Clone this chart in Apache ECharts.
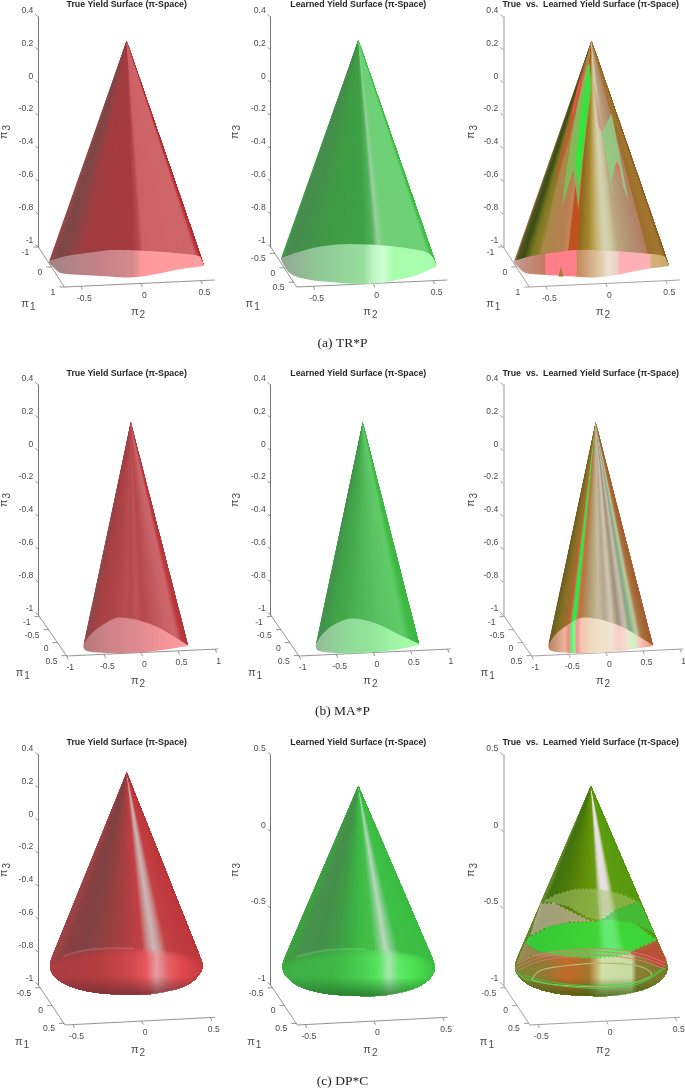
<!DOCTYPE html>
<html>
<head>
<meta charset="utf-8">
<title>Yield surfaces in pi-space</title>
<script src="https://cdn.jsdelivr.net/npm/echarts@6/dist/echarts.min.js"></script>
<style>html,body{margin:0;background:#fff}</style>
</head>
<body>
<div id="chart" style="width:685px;height:1088px;"></div>
<script>
// all outlines are [pi2, pi3] as read against the tick marks of each panel
const pi3TicksMax = [0.4, 0.5];
const captions = ['(a) TR*P', '(b) MA*P', '(c) DP*C'];
const titles = ['True Yield Surface (\u03c0-Space)', 'Learned Yield Surface (\u03c0-Space)', 'True  vs.  Learned Yield Surface (\u03c0-Space)'];

const pi2TicksA = [-0.5, 0, 0.5];
const pi2TicksB = [-1, -0.5, 0, 0.5, 1];
const pi2TicksC = [-0.5, 0, 0.5];
const pi1TicksWide = [-1, 0, 1];
const pi1TicksNarrow = [-0.5, 0, 0.5];
const pi1TicksB = [-1, -0.5, 0, 0.5];

// row a, TR*P
const aTrueApex = [-0.119, 0.256];
const aTrueTop = [[-.764,-1.085],[-.619,-1.055],[-.425,-1.034],[-.231,-1.018],[-.008,-1.022],[.214,-1.032],[.464,-1.051],[.506,-1.079],[.525,-1.110]];
const aTrueLow = [[.525,-1.116],[.325,-1.136],[.131,-1.164],[-.008,-1.181],[-.147,-1.185],[-.342,-1.176],[-.619,-1.164],[-.689,-1.150],[-.764,-1.099]];
const aLearnApex = [-0.124, 0.260];
const aLearnTop = [[-.768,-1.069],[-.638,-1.034],[-.471,-1.002],[-.276,-.984],[-.082,-.984],[.113,-.992],[.307,-1.010],[.446,-1.032],[.501,-1.069],[.529,-1.114]];
const aLearnLow = [[.529,-1.120],[.363,-1.170],[.196,-1.201],[.029,-1.221],[-.165,-1.223],[-.360,-1.213],[-.554,-1.197],[-.693,-1.160],[-.768,-1.079]];

// row b, MA*P
const bTrueApex = [-0.138, 0.172];
const bTrueTop = [[-.776,-1.183],[-.686,-1.122],[-.552,-1.071],[-.350,-1.020],[-.170,-1.020],[.033,-1.041],[.257,-1.081],[.482,-1.142],[.631,-1.183]];
const bTrueLow = [[.631,-1.189],[.347,-1.209],[.033,-1.227],[-.282,-1.233],[-.552,-1.229],[-.732,-1.219],[-.776,-1.197]];
const bLearnApex = [-0.143, 0.172];
const bLearnTop = [[-.776,-1.183],[-.695,-1.122],[-.538,-1.061],[-.314,-1.022],[-.134,-1.030],[.091,-1.061],[.360,-1.122],[.616,-1.176]];
const bLearnLow = [[.616,-1.183],[.338,-1.209],[.046,-1.225],[-.269,-1.235],[-.583,-1.229],[-.741,-1.217],[-.776,-1.193]];

// row c, DP*C
const cTrueApex = [-0.109, 0.294];
const cTrueEdge = [[-.643,-.807],[-.667,-.878],[-.643,-.939],[-.546,-1.0],[-.376,-1.041],[-.182,-1.057],[.036,-1.057],[.231,-1.030],[.352,-.99],[.425,-.929],[.444,-.878],[.425,-.828]];
const cTrueTop = [[-.663,-.868],[-.57,-.824],[-.425,-.791],[-.255,-.777],[-.061,-.777],[.133,-.787],[.303,-.811],[.413,-.848],[.442,-.878]];
const cLearnApex = [-0.114, 0.298];
const cLearnEdge = [[-.643,-.804],[-.667,-.880],[-.636,-.946],[-.539,-1.011],[-.369,-1.054],[-.175,-1.07],[.044,-1.07],[.238,-1.039],[.359,-.993],[.427,-.935],[.444,-.880],[.425,-.826]];
const cLearnTop = [[-.665,-.87],[-.563,-.815],[-.417,-.783],[-.248,-.767],[-.053,-.767],[.141,-.778],[.311,-.804],[.408,-.837],[.442,-.876]];

// colour along the cone, keyed on pi2 at the base
const aTrueBody = [[-.764,'#a04245'],[-.74,'#8a4a4a'],[-.689,'#7c4748'],[-.578,'#8a4446'],[-.48,'#a03d40'],[-.064,'#a63b3f'],[-.008,'#b84c50'],[.02,'#cc6166'],[.45,'#cf666a'],[.483,'#b73337'],[.525,'#b53034']];
const aTrueBase = [[-.73,'#a58487'],[-.342,'#c58286'],[-.064,'#d78a8d'],[.006,'#ff999c'],[.525,'#ff9da0']];
const aLearnBody = [[-.768,'#3aa542'],[-.735,'#4a8a50'],[-.554,'#42924a'],[-.36,'#3f9c44'],[-.082,'#3ea245'],[0,'#52b25b'],[.043,'#9ecfa3'],[.075,'#7bd181'],[.113,'#6fd077'],[.446,'#6ed178'],[.488,'#3fc046'],[.529,'#3ebf45']];
const aLearnBase = [[-.749,'#94a898'],[-.471,'#8fc895'],[-.082,'#96dd9d'],[0,'#c0f5c4'],[.085,'#d0ffd2'],[.168,'#a9fcae'],[.529,'#a9ffad']];
const aMixBody = [[-.763,'#b9785f'],[-.743,'#4f5a20'],[-.688,'#3d4a16'],[-.618,'#7a7a20'],[-.5625,'#8f7d28'],[-.54,'#a88848'],[-.368,'#b87f52'],[-.32,'#c4865a'],[-.31,'#c0521f'],[-.229,'#c0521f'],[-.222,'#8a6e20'],[-.146,'#a8852b'],[-.0625,'#c8bb80'],[-.007,'#d4d4b5'],[.049,'#cdc9a0'],[.104,'#bca581'],[.243,'#b08f6f'],[.34,'#b47e62'],[.36,'#9e6f2c'],[.465,'#a17830'],[.521,'#8c5a25']];
const aMixBase = [[-.763,'#c7a7a0'],[-.70,'#c49088'],[-.51,'#c27c60'],[-.5,'#ff8088'],[-.25,'#ff8088'],[-.235,'#c58a5a'],[-.0625,'#dcc4a0'],[.02,'#ece2d0'],[.1,'#e8d0c0'],[.11,'#ffb0b4'],[.365,'#ffb0b4'],[.38,'#d6b278'],[.521,'#c8a870']];

const bTrueBody = [[-.776,'#a84548'],[-.722,'#8a4a4b'],[-.619,'#a84044'],[-.372,'#ad4548'],[-.192,'#b94d50'],[-.147,'#ae494c'],[-.058,'#bf5357'],[.032,'#b5484c'],[.212,'#c0595d'],[.347,'#c9636a'],[.482,'#cd666a'],[.562,'#bb3a3e'],[.63,'#b5353a']];
const bTrueBase = [[-.776,'#b5787c'],[-.416,'#d08388'],[-.012,'#df8b90'],[.347,'#f79599'],[.631,'#ff9fa2']];
const bLearnBody = [[-.776,'#3c9c44'],[-.718,'#4a8f51'],[-.605,'#3f9f47'],[-.359,'#46aa4d'],[-.134,'#50b858'],[.091,'#5cc265'],[.405,'#60cc68'],[.531,'#3fb946'],[.616,'#3ab940']];
const bLearnBase = [[-.776,'#94b999'],[-.449,'#90d697'],[0,'#94e69b'],[.316,'#9ff5a5'],[.616,'#a5ffa9']];
const bMixBody = [[-.776,'#6b5a20'],[-.686,'#7a6a22'],[-.597,'#8f7026'],[-.507,'#a86a30'],[-.484,'#e85050'],[-.453,'#30e840'],[-.408,'#30e840'],[-.372,'#ee5a50'],[-.336,'#b07c40'],[-.237,'#b09b70'],[-.102,'#c7bca0'],[-.013,'#b6a58e'],[.077,'#cfc9b4'],[.167,'#a08e78'],[.257,'#c9c3b2'],[.324,'#90a080'],[.369,'#86c48e'],[.414,'#c9c8a8'],[.482,'#ac7540'],[.594,'#9a6430'],[.626,'#c4503a']];
const bMixBase = [[-.776,'#b78461'],[-.55,'#ecb49c'],[-.507,'#ff8088'],[-.46,'#60f070'],[-.425,'#80f890'],[-.39,'#ff8a90'],[-.33,'#f2c6b0'],[-.15,'#efdfc4'],[.077,'#f2e3d2'],[.167,'#f8cdc9'],[.3,'#eee4cf'],[.39,'#c8f5c0'],[.437,'#ffc8c8'],[.617,'#e49a80']];

const cTrueBody = [[-.667,'#9c4345'],[-.607,'#874042'],[-.473,'#804244'],[-.303,'#94403f'],[-.109,'#ad3f42'],[.03,'#c24044'],[.09,'#c8908f'],[.14,'#cbb8b9'],[.19,'#c8908f'],[.25,'#c34044'],[.444,'#bd383c']];
const cTrueBase = [[-.667,'#b13b3f'],[-.303,'#b83d41'],[-.061,'#d54a50'],[.036,'#ee5a60'],[.109,'#e79b9e'],[.182,'#e9696d'],[.279,'#e64c52'],[.444,'#c43b40']];
const cLearnBody = [[-.667,'#3da240'],[-.607,'#47914c'],[-.473,'#458f4b'],[-.303,'#3f9d45'],[-.109,'#3cb843'],[.03,'#44c04b'],[.09,'#7fcc87'],[.14,'#b8d8bc'],[.19,'#7fcc87'],[.25,'#3fc048'],[.444,'#3bbd42']];
const cLearnBase = [[-.667,'#3eb244'],[-.303,'#3db945'],[-.061,'#4ed556'],[.036,'#58ea60'],[.109,'#a5e8aa'],[.182,'#62eb6b'],[.279,'#4fe957'],[.444,'#3cc143']];
const cMixBody = [[-.667,'#6a8a2a'],[-.643,'#3f7412'],[-.473,'#4d7a0a'],[-.279,'#5d8a08'],[-.133,'#639408'],[-.04,'#6a9a18'],[0,'#c0c8a0'],[.04,'#e8e2e2'],[.12,'#e5dfdf'],[.16,'#b8c690'],[.2,'#5f9d10'],[.444,'#589a10']];
const cMixBase = [[-.667,'#7a8a30'],[-.473,'#8d7a34'],[-.279,'#c46a28'],[-.133,'#a5752c'],[-.073,'#c7b070'],[-.036,'#d0e0a8'],[.182,'#c4dca0'],[.218,'#8b8034'],[.444,'#7a7a2a']];

// patches where the two surfaces cut through each other
const a3Red = [[-.165,.158],[-.201,-.024],[-.3125,-.369],[-.4375,-.653],[-.396,-.491],[-.299,-.207],[-.215,.037]];
const a3Hot = [[-.16,.097],[-.215,-.024],[-.27,-.19],[-.29,-.2],[-.235,-.02]];
const a3Green = [[-.1375,.118],[-.118,-.024],[-.16,-.268],[-.1875,-.450],[-.229,-.775],[-.251,-.633],[-.271,-.531],[-.3625,-.751],[-.34,-.592],[-.299,-.389],[-.229,-.105],[-.16,.097]];
const a3Core = [[-.1375,.108],[-.132,-.024],[-.1875,-.369],[-.224,-.633],[-.251,-.471],[-.215,-.247],[-.16,.037]];
const a3Right = [[.049,-.187],[.188,-.714],[.146,-.633],[.076,-.511],[.049,-.592],[.076,-.751],[.007,-.471],[-.035,-.308]];
const a3Rose = [[.076,-.511],[.146,-.633],[.11,-.5],[.09,-.48]];
const a3Left = [[-.104,.016],[-.021,-.308],[-.0625,-.268]];
const a3Spike = [[-.374,-1.12],[-.395,-1.18],[-.353,-1.18]];

const c3Olive = [[-.468,-.457],[-.376,-.411],[-.231,-.374],[-.061,-.372],[.109,-.407],[.231,-.457],[.061,-.511],[-.061,-.576],[-.133,-.565],[-.279,-.489],[-.40,-.463]];
const c3Pink = [[-.478,-.467],[-.376,-.467],[-.255,-.522],[-.133,-.576],[-.085,-.587],[-.279,-.593],[-.425,-.62],[-.558,-.685],[-.522,-.576]];
const c3Right = [[.243,-.459],[.303,-.576],[.352,-.663],[.206,-.598],[.061,-.576],[-.061,-.587],[.061,-.511]];
const c3Band = [[-.558,-.685],[-.425,-.62],[-.279,-.593],[-.061,-.587],[.061,-.576],[.206,-.598],[.364,-.707],[.328,-.75],[.231,-.783],[.061,-.815],[-.133,-.826],[-.303,-.815],[-.498,-.783],[-.595,-.728]];
const c3Red = [[.364,-.707],[.437,-.837],[.425,-.902],[.255,-.815],[.158,-.793]];
const c3Tan = [[-.595,-.728],[-.655,-.859],[-.546,-.815],[-.303,-.815],[-.498,-.783]];
const c3RingA = [[-.655,-.863],[-.449,-.793],[-.06,-.761],[.231,-.793],[.425,-.854]];
const c3RingB = [[-.655,-.885],[-.449,-.815],[-.06,-.783],[.231,-.815],[.43,-.876]];
const c3RingC = [[-.648,-.906],[-.449,-.837],[-.06,-.805],[.231,-.837],[.43,-.898]];
const c3RingTan = [[-.546,-.963],[-.473,-.902],[-.254,-.870],[-.012,-.858],[.231,-.876],[.328,-.935],[.183,-.989],[-.06,-1.011],[-.352,-1],[-.498,-.978],[-.546,-.963]];
const c3RingLow = [[-.667,-.891],[-.595,-.956],[-.376,-1],[-.06,-1.022],[.231,-.993],[.425,-.891]];
const c3RingLow2 = [[-.595,-.94],[-.376,-.985],[-.06,-1.005],[.231,-.978],[.42,-.885]];

const colLeft = [38.4, 270.7, 503.3];
const rowTop = [17, 385, 755];
const gridW = 177, gridH = 230;

const rowInfo = [
  {xMin:-.854, xMax:.621, pi2:pi2TicksA, front:-.6375, right:.617},
  {xMin:-1.383, xMax:1.003, pi2:pi2TicksB, front:-1.001, right:1.043},
  {xMin:-.752, xMax:.537, pi2:pi2TicksC, front:-.558, right:.535}
];

const panels = [
  {r:0,c:0,apex:aTrueApex,top:aTrueTop,low:aTrueLow,body:aTrueBody,base:aTrueBase,pi1:pi1TicksWide,range:[-1,1],labelX:-36},
  {r:0,c:1,apex:aLearnApex,top:aLearnTop,low:aLearnLow,body:aLearnBody,base:aLearnBase,pi1:pi1TicksNarrow,range:[-.722,.667],labelX:-44},
  {r:0,c:2,apex:aTrueApex,top:aTrueTop,low:aTrueLow,body:aMixBody,base:aMixBase,pi1:pi1TicksWide,range:[-1,1],labelX:-36,
    patches:[[a3Red,'rgba(200,85,47,0.7)'],[a3Hot,'rgba(255,74,74,0.8)'],[a3Green,'rgba(127,190,92,0.9)'],[a3Core,'#2fe83a'],[a3Right,'rgba(143,207,133,0.85)'],[a3Rose,'#d67870'],[a3Left,'rgba(208,138,128,0.7)'],[a3Spike,'#a08030']]},
  {r:1,c:0,apex:bTrueApex,top:bTrueTop,low:bTrueLow,body:bTrueBody,base:bTrueBase,pi1:pi1TicksB,range:[-1.063,.514],labelX:-44},
  {r:1,c:1,apex:bLearnApex,top:bLearnTop,low:bLearnLow,body:bLearnBody,base:bLearnBase,pi1:pi1TicksB,range:[-1.063,.514],labelX:-44},
  {r:1,c:2,apex:bTrueApex,top:bTrueTop,low:bTrueLow,body:bMixBody,base:bMixBase,pi1:pi1TicksB,range:[-1.063,.514],labelX:-44},
  {r:2,c:0,apex:cTrueApex,edge:cTrueEdge,top:cTrueTop,body:cTrueBody,base:cTrueBase,pi1:pi1TicksNarrow,range:[-.579,.545],labelX:-43,shade:'110,45,50',glow:'rgba(235,160,160,0.22)',soft:true},
  {r:2,c:1,apex:cLearnApex,edge:cLearnEdge,top:cLearnTop,body:cLearnBody,base:cLearnBase,pi1:pi1TicksNarrow,range:[-.579,.545],labelX:-43,yMax:1,shade:'35,110,40',glow:'rgba(160,235,165,0.22)',soft:true},
  {r:2,c:2,apex:cLearnApex,edge:cLearnEdge,top:cLearnTop,body:cMixBody,base:cMixBase,pi1:pi1TicksNarrow,range:[-.579,.545],labelX:-43,yMax:1,shade:'60,90,15',jag:true,
    patches:[[c3Olive,'rgba(165,195,110,0.55)'],[c3Pink,'rgba(195,175,155,0.75)'],[c3Right,'rgba(60,200,70,0.7)'],[c3Band,'rgba(50,235,70,0.72)'],[c3Red,'rgba(200,70,60,0.85)'],[c3Tan,'rgba(170,140,95,0.8)']],
    rings:[[c3RingA,'#f0707a',.8],[c3RingB,'#f0707a',.8],[c3RingC,'#f0707a',.8],[c3RingTan,'#b4b878',1.2],[c3RingLow,'#30e040',.9],[c3RingLow2,'#30e040',.7]]}
];

function hexRgb(h) {
  return [parseInt(h.substr(1,2),16), parseInt(h.substr(3,2),16), parseInt(h.substr(5,2),16)];
}
function colorAt(stops, x) {
  if (x <= stops[0][0]) return stops[0][1];
  for (let i = 1; i < stops.length; i++) {
    if (x <= stops[i][0]) {
      const t = (x - stops[i-1][0]) / (stops[i][0] - stops[i-1][0]);
      const a = hexRgb(stops[i-1][1]), b = hexRgb(stops[i][1]);
      return 'rgb(' + a.map((v, k) => Math.round(v + (b[k] - v) * t)).join(',') + ')';
    }
  }
  return stops[stops.length-1][1];
}
// catmull-rom through the read points, only to draw a smooth curve
function smoothCurve(pts, n) {
  const out = [];
  for (let i = 0; i < pts.length - 1; i++) {
    const p0 = pts[Math.max(i-1,0)], p1 = pts[i], p2 = pts[i+1], p3 = pts[Math.min(i+2,pts.length-1)];
    for (let k = 0; k < n; k++) {
      const t = k / n, t2 = t*t, t3 = t2*t;
      out.push([0,1].map(d => 0.5*(2*p1[d] + (p2[d]-p0[d])*t + (2*p0[d]-5*p1[d]+4*p2[d]-p3[d])*t2 + (3*p1[d]-p0[d]-3*p2[d]+p3[d])*t3)));
    }
  }
  out.push(pts[pts.length-1]);
  return out;
}
// saw-tooth edge like the mesh steps on the overlaid surfaces
function jagged(px) {
  const out = [];
  for (let i = 0; i < px.length; i++) {
    const a = px[i], b = px[(i+1) % px.length];
    const n = Math.max(1, Math.round(Math.abs(b[0]-a[0]) / 2));
    for (let k = 0; k < n; k++) {
      out.push([a[0] + (b[0]-a[0])*k/n, a[1] + (b[1]-a[1])*k/n + (k % 2 ? .9 : -.9)]);
    }
  }
  return out;
}

function line(api, a, b, color, w) {
  return {type:'line', shape:{x1:a[0],y1:a[1],x2:b[0],y2:b[1]}, style:{stroke:color,lineWidth:w,fill:null}};
}
function label(text, x, y, align) {
  return {type:'text', x:x, y:y, style:{text:text, fill:'#4a4a4a', fontSize:8.6, fontFamily:'Liberation Sans', align:align||'center', verticalAlign:'middle'}};
}
function piLabel(sub, x, y) {
  return {type:'text', x:x, y:y, style:{text:'{p|\u03c0}{s|'+sub+'}', align:'center', verticalAlign:'middle',
    rich:{p:{fontSize:11,fontFamily:'Liberation Sans',fill:'#4a4a4a',color:'#4a4a4a'},s:{fontSize:10,fontFamily:'Liberation Sans',fill:'#4a4a4a',color:'#4a4a4a',padding:[6,0,0,1]}}}};
}

function drawPanel(p, api) {
  const kids = [];
  const info = rowInfo[p.r];
  const yScale = p.yMax ? 1.5/gridH : 1.4/gridH;
  // floor lines: the pixel drop is the same in every panel of a row
  const back = api.coord([info.xMin, -1]);
  const drop = [40, 41, 40][p.r], rise = [33, 34, 32.3][p.r];
  const frontY = -1 - drop*yScale, rightY = -1 - rise*yScale;
  const front = api.coord([info.front, frontY]);
  const right = api.coord([info.right, rightY]);
  const floorColor = p.c === 2 ? '#8a8a8a' : '#777';
  kids.push(line(api, back, front, floorColor, .8));
  kids.push(line(api, front, right, floorColor, .8));
  p.pi1.forEach(v => {
    const f = (v - p.range[0]) / (p.range[1] - p.range[0]);
    const pt = [back[0] + (front[0]-back[0])*f, back[1] + (front[1]-back[1])*f];
    kids.push(line(api, pt, [pt[0]-5, pt[1]], floorColor, .8));
    kids.push(label(String(v), pt[0]-9, pt[1]+5.5, 'right'));
  });
  info.pi2.forEach(v => {
    const f = (v - info.front) / (info.right - info.front);
    const pt = api.coord([v, frontY + (rightY-frontY)*f]);
    kids.push(line(api, pt, [pt[0]+1.5, pt[1]+3.5], floorColor, .8));
    kids.push(label(String(v), pt[0]+3.5, pt[1]+12));
  });
  // slanted ticks of the pi3 axis
  const yTop = p.yMax ? 0.5 : 0.4, yStep = p.yMax ? 0.5 : 0.2;
  for (let v = -1; v <= yTop + 1e-6; v += yStep) {
    const pt = api.coord([info.xMin, v]);
    kids.push(line(api, pt, [pt[0]-3, pt[1]-2.5], floorColor, .8));
  }
  kids.push(piLabel('1', front[0] + p.labelX, front[1] + 17));
  kids.push(piLabel('2', back[0] + 99.7, front[1] + 25));

  // cone body as a fan from the apex, each sector painted over the rest so no seams show
  const apex = api.coord(p.apex);
  const outer = smoothCurve(p.edge || p.top, 12);
  const outerPx = outer.map(q => api.coord(q));
  for (let i = 0; i < outer.length - 1; i++) {
    const c = colorAt(p.body, (outer[i][0] + outer[i+1][0]) / 2);
    kids.push({type:'polygon', shape:{points:[apex].concat(outerPx.slice(i))}, style:{fill:c}});
  }
  // base or rim patch
  const lowChain = p.low ? smoothCurve(p.low, 8) : smoothCurve(p.edge, 8).reverse();
  const chain = smoothCurve(p.top, 8).concat(lowChain);
  const xs = chain.map(q => q[0]);
  const x0 = Math.min.apply(null, xs), x1 = Math.max.apply(null, xs);
  const makeGrad = () => new echarts.graphic.LinearGradient(0, 0, 1, 0, p.base.map(s => ({
    offset: Math.min(1, Math.max(0, (s[0]-x0)/(x1-x0))), color: s[1]
  })));
  const poly = chain.map(q => api.coord(q));
  if (p.soft) {
    // rim fades into the cone: stacked layers with the upper edge moved down
    const topChain = smoothCurve(p.top, 8);
    for (let k = 0; k < 6; k++) {
      const pts = topChain.map(q => { const a = api.coord(q); return [a[0], a[1] + k*1.6]; }).concat(lowChain.map(q => api.coord(q)));
      kids.push({type:'polygon', shape:{points:pts}, style:{fill:makeGrad(), opacity:.3}});
    }
  } else {
    kids.push({type:'polygon', shape:{points:poly}, style:{fill:makeGrad()}});
  }
  if (p.shade) {
    kids.push({type:'polygon', shape:{points:poly}, style:{fill:new echarts.graphic.LinearGradient(0,0,0,1,[
      {offset:0,color:'rgba('+p.shade+',0)'},{offset:.6,color:'rgba('+p.shade+',0)'},{offset:1,color:'rgba('+p.shade+',0.8)'}
    ])}});
  }
  if (p.glow) {
    kids.push({type:'polyline', shape:{points:smoothCurve(p.top.slice(1,5),6).map(q => api.coord(q))}, style:{stroke:p.glow,lineWidth:2.2,fill:null}});
  }
  (p.patches || []).forEach(a => {
    const px = a[0].map(q => api.coord(q));
    kids.push({type:'polygon', shape:{points:p.jag ? jagged(px) : px}, style:{fill:a[1]}});
  });
  (p.rings || []).forEach(a => {
    kids.push({type:'polyline', shape:{points:smoothCurve(a[0],8).map(q => api.coord(q))}, style:{stroke:a[1],lineWidth:a[2],fill:null}});
  });
  return {type:'group', children:kids};
}

const option = {
  animation:false,
  backgroundColor:'#fff',
  title:[],
  grid:[], xAxis:[], yAxis:[], series:[]
};
panels.forEach((p, i) => {
  const info = rowInfo[p.r];
  const left = colLeft[p.c], top = rowTop[p.r];
  option.grid.push({left:left, top:top, width:gridW, height:gridH, containLabel:false, outerBoundsMode:'none'});
  option.xAxis.push({gridIndex:i, type:'value', min:info.xMin, max:info.xMax, show:false});
  option.yAxis.push({gridIndex:i, type:'value', min:-1, max:p.yMax ? pi3TicksMax[1] : pi3TicksMax[0], interval:p.yMax ? .5 : .2,
    position:'left', splitLine:{show:false}, axisTick:{show:false},
    axisLine:{show:true, onZero:false, lineStyle:p.c === 2 ? {color:'#bdbdbd',width:1.6} : {color:'#666',width:.9}},
    axisLabel:{color:'#4a4a4a', fontSize:8.6, fontFamily:'Liberation Sans', margin:5, verticalAlign:'bottom', lineHeight:13},
    name:'{p|\u03c0}{s|3}', nameLocation:'middle', nameRotate:90, nameGap:[26,28,24][p.c],
    nameTextStyle:{rich:{p:{fontSize:11,color:'#4a4a4a',fontFamily:'Liberation Sans'},s:{fontSize:10,color:'#4a4a4a',fontFamily:'Liberation Sans',padding:[6,0,0,1]}}}
  });
  option.series.push({type:'custom', xAxisIndex:i, yAxisIndex:i, silent:true, clip:false, data:[[0,0]],
    renderItem:(params, api) => drawPanel(p, api)});
  option.title.push({text:titles[p.c], left:[126.7,358.3,590.7][p.c], top:[0,369,738][p.r], padding:0, textAlign:'center',
    textStyle:{fontSize:8.8, fontWeight:'bold', color:'#262626', fontFamily:'Liberation Sans'}});
});
captions.forEach((t, i) => {
  option.title.push({text:t, left:342.5, top:[336,704,1074][i], padding:0, textAlign:'center',
    textStyle:{fontSize:13.5, fontWeight:'normal', color:'#222', fontFamily:'Liberation Serif'}});
});

const myChart = echarts.init(document.getElementById('chart'));
myChart.setOption(option);
</script>
</body>
</html>
